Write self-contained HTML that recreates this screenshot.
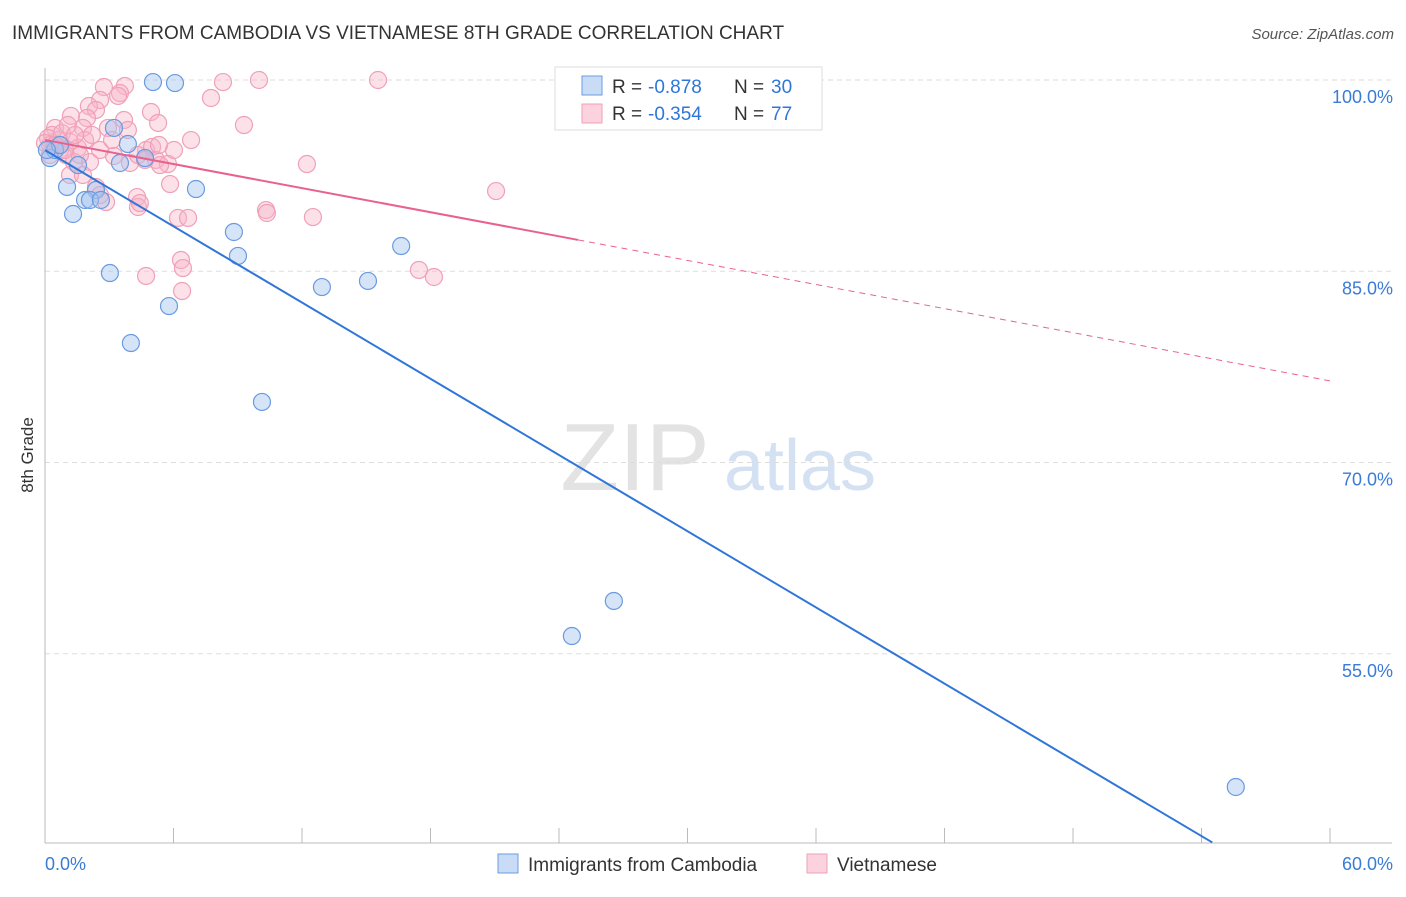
<!DOCTYPE html>
<html><head><meta charset="utf-8"><style>
body{margin:0;background:#fff;font-family:"Liberation Sans",sans-serif;}
svg text{font-family:"Liberation Sans",sans-serif;}
</style></head><body>
<svg id="c" width="1406" height="892" xmlns="http://www.w3.org/2000/svg">
<text x="12" y="39" font-size="19" fill="#333">IMMIGRANTS FROM CAMBODIA VS VIETNAMESE 8TH GRADE CORRELATION CHART</text>
<text x="1394" y="39" font-size="15" fill="#555" text-anchor="end" font-style="italic">Source: ZipAtlas.com</text>
<text x="33" y="455" font-size="17" fill="#333" transform="rotate(-90 33 455)" text-anchor="middle">8th Grade</text>
<g><text x="635" y="490" font-size="96" fill="#ddd" text-anchor="middle" font-family="Liberation Serif" opacity="0.8">ZIP</text><text x="800" y="490" font-size="72" fill="#c9daf0" text-anchor="middle" opacity="0.8">atlas</text></g>
<g id="grid"></g><g id="axes"></g><g id="pts"></g><g id="lines"></g>
<g>
<rect x="555" y="67" width="267" height="63" fill="#fff" stroke="#ddd"/>
<rect x="582" y="76" width="20" height="19" fill="rgba(164,196,240,0.6)" stroke="#6a9be0"/>
<g font-size="19">
<text x="612" y="93" fill="#333">R =</text><text x="648" y="93" fill="#2f76d8">-0.878</text>
<text x="734" y="93" fill="#333">N =</text><text x="771" y="93" fill="#2f76d8">30</text></g>
<rect x="582" y="104" width="20" height="19" fill="rgba(248,180,200,0.6)" stroke="#f0a0b8"/>
<g font-size="19">
<text x="612" y="120" fill="#333">R =</text><text x="648" y="120" fill="#2f76d8">-0.354</text>
<text x="734" y="120" fill="#333">N =</text><text x="771" y="120" fill="#2f76d8">77</text></g>
</g>
<g>
<rect x="498" y="854" width="20" height="19" fill="rgba(164,196,240,0.6)" stroke="#6a9be0"/>
<text x="528" y="871" font-size="19" fill="#333">Immigrants from Cambodia</text>
<rect x="807" y="854" width="20" height="19" fill="rgba(248,180,200,0.6)" stroke="#f0a0b8"/>
<text x="837" y="871" font-size="19" fill="#333">Vietnamese</text>
</g>
</svg>
<script>
const blueX=[5.04,6.07,3.87,3.22,3.50,4.67,1.03,2.38,1.87,2.10,2.61,1.31,7.05,8.82,9.01,16.63,3.03,12.93,15.08,5.79,4.01,10.13,26.56,24.60,55.6,0.23,0.47,1.54,0.70,0.09];
const blueY=[99.84,99.76,94.98,96.24,93.49,93.88,91.61,91.37,90.59,90.59,90.59,89.49,91.45,88.08,86.20,86.98,84.86,83.76,84.24,82.27,79.37,74.75,59.14,56.39,44.55,93.88,94.51,93.33,94.90,94.51];
const pinkX=[2.75,3.73,3.50,3.41,2.57,2.05,2.38,1.96,1.21,2.94,3.69,4.95,5.28,1.77,0.47,0.33,0.61,0.14,0.79,1.17,1.54,0.98,1.35,2.10,1.63,3.22,3.97,4.72,5.0,5.18,5.74,6.02,6.82,5.32,4.34,1.17,1.77,2.38,2.85,4.30,4.34,4.43,5.84,6.21,6.68,6.35,6.44,6.40,4.72,7.75,8.31,9.99,9.29,12.23,10.32,10.36,12.51,15.55,21.06,17.46,18.16,0.70,0.23,0.0,0.47,0.93,1.07,1.87,2.19,2.57,3.13,3.87,0.23,1.40,2.57,5.37,4.67];
const pinkY=[99.45,99.53,98.98,98.75,98.43,97.96,97.65,97.02,97.18,96.24,96.86,97.49,96.63,96.24,96.24,95.69,95.29,95.45,95.84,95.14,94.67,94.12,93.57,93.57,94.12,94.04,93.49,94.51,94.75,93.73,93.41,94.51,95.29,94.9,94.12,92.55,92.55,91.61,90.43,90.82,90.04,90.35,91.84,89.18,89.18,85.88,85.25,83.45,84.63,98.59,99.84,100,96.47,93.41,89.8,89.57,89.25,100,91.29,85.1,84.55,94.51,94.9,95.06,94.9,94.51,96.47,95.29,95.69,94.51,95.29,96.08,94.12,95.69,90.98,93.33,93.73];
const yTicks=[100,85,70,55];
const yTickLabels=["100.0%","85.0%","70.0%","55.0%"];
const blueTrend=[94.5,-0.9963];
const pinkTrend=[95.3,-0.315];
const pinkSolidEnd=24.9;
const NS="http://www.w3.org/2000/svg";
const sx=v=>45+v*21.417, sy=v=>80+(100-v)*12.75;
function mk(t,a,p){const e=document.createElementNS(NS,t);for(const k in a)e.setAttribute(k,a[k]);p.appendChild(e);return e;}
const grid=document.getElementById('grid'),axes=document.getElementById('axes'),pts=document.getElementById('pts'),lines=document.getElementById('lines');
yTicks.forEach((t,i)=>{
 const l=mk('line',{x1:45,x2:1392,y1:sy(t),y2:sy(t),stroke:'#ddd','stroke-dasharray':'5,4'},grid);
 
 
 const tx=mk('text',{x:1393,y:sy(t)+23,'font-size':18,fill:'#3a7bd5','text-anchor':'end'},axes);
 tx.textContent=yTickLabels[i];
 
 
});
const ax=mk('line',{x1:45,x2:45,y1:68,y2:843,stroke:'#bbb'},axes);


const bx=mk('line',{x1:45,x2:1392,y1:843,y2:843,stroke:'#bbb'},axes);


for(let i=0;i<=10;i++){const t=mk('line',{x1:sx(i*6),x2:sx(i*6),y1:828,y2:843,stroke:'#bbb'},axes);
 
 }
[[0,'0.0%','start',45],[60,'60.0%','end',1393]].forEach(d=>{const t=mk('text',{x:d[3],y:870,'font-size':18,fill:'#3a7bd5','text-anchor':d[2]},axes);t.textContent=d[1];
 
 });
pinkX.forEach((x,i)=>{const c=mk('circle',{cx:sx(x),cy:sy(pinkY[i]),r:8.5,fill:'rgba(248,180,200,0.4)',stroke:'#f0a0b8','stroke-width':1.2},pts);
 
 });
blueX.forEach((x,i)=>{const c=mk('circle',{cx:sx(x),cy:sy(blueY[i]),r:8.5,fill:'rgba(164,196,240,0.45)',stroke:'#6a9be0','stroke-width':1.2},pts);
 
 });
const bEnd=(40.2-blueTrend[0])/blueTrend[1];
const bl=mk('line',{x1:sx(0),y1:sy(blueTrend[0]),x2:sx(bEnd),y2:sy(blueTrend[0]+blueTrend[1]*bEnd),stroke:'#2f76d8','stroke-width':2},lines);


const pl=mk('line',{x1:sx(0),y1:sy(pinkTrend[0]),x2:sx(pinkSolidEnd),y2:sy(pinkTrend[0]+pinkTrend[1]*pinkSolidEnd),stroke:'#e8628e','stroke-width':2},lines);


const pd=mk('line',{x1:sx(pinkSolidEnd),y1:sy(pinkTrend[0]+pinkTrend[1]*pinkSolidEnd),x2:sx(60),y2:sy(pinkTrend[0]+pinkTrend[1]*60),stroke:'#e8628e','stroke-width':1,'stroke-dasharray':'6,5'},lines);


</script>
</body></html>
